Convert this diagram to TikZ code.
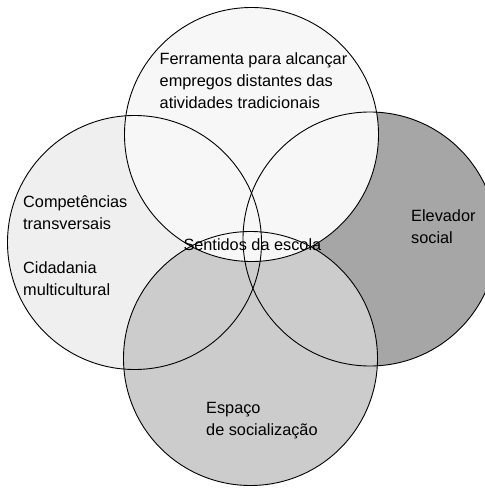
\documentclass[tikz,border=0pt]{standalone}
\usepackage{fontspec}
\setmainfont{Liberation Sans}
\definecolor{topgray}{HTML}{F7F7F7}
\definecolor{leftgray}{HTML}{EFEFEF}
\definecolor{bottomgray}{HTML}{CCCCCC}
\definecolor{rightgray}{HTML}{A6A6A6}
\tikzset{
  sentido/.style={anchor=base west, align=left, inner sep=0pt,
    font=\fontsize{16.3}{22}\selectfont},
  ring/.style={draw=black, line width=0.9pt}
}
\begin{document}
\begin{tikzpicture}[x=1pt,y=-1pt]
                    \useasboundingbox (0,0) rectangle (485,488);
                    \clip (0,0) rectangle (485,488);

                    % fills, back to front
                    \fill[leftgray] (134.5,242.5) circle [radius=127pt];
                    \fill[rightgray] (370,239) circle [radius=127pt];
                    \fill[bottomgray] (250.5,358.5) circle [radius=127pt];
                    \fill[topgray] (251.5,134.5) circle [radius=127pt];

                    % outlines
                    \draw[ring] (134.5,242.5) circle [radius=127pt];
                    \draw[ring] (370,239) circle [radius=127pt];
                    \draw[ring] (250.5,358.5) circle [radius=127pt];
                    \draw[ring] (251.5,134.5) circle [radius=127pt];

                    % labels (base = last line)
                    \node[sentido] (ferramenta) at (159.5,108.5)
                      {Ferramenta para alcançar\\empregos distantes das\\atividades tradicionais};
                    \node[sentido] (competencias) at (23,295)
                      {Competências\\transversais\\[22pt]Cidadania\\multicultural};
                    \node[sentido] (elevador) at (411,243) {Elevador\\social};
                    \node[sentido] (espaco) at (206,435) {Espaço\\de socialização};
                    \node[sentido] (escola) at (183.3,250.7) {Sentidos da escola};
                \end{tikzpicture}
\end{document}
